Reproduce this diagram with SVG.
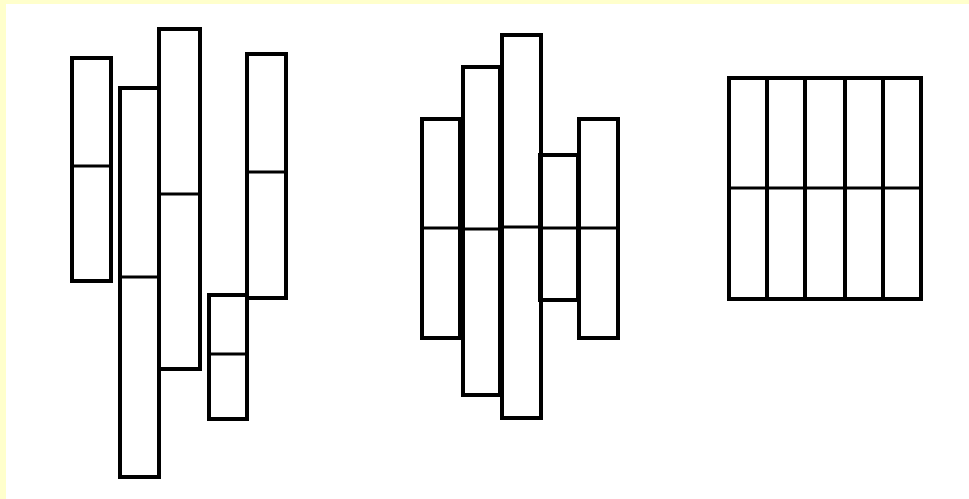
<svg xmlns="http://www.w3.org/2000/svg" width="969" height="499" viewBox="0 0 969 499">
<style>
.bar{fill:none;stroke:#000;stroke-width:4}
.div{stroke:#000;stroke-width:3}
</style>
<rect x="0" y="0" width="969" height="499" fill="#ffffcc"/>
<rect x="6" y="4" width="963" height="495" fill="#ffffff"/>
<g id="bar-a"><rect class="bar" x="72" y="58" width="39" height="223"/><line class="div" x1="72" y1="166" x2="111" y2="166"/></g>
<g id="bar-b"><rect class="bar" x="120" y="88" width="39" height="389"/><line class="div" x1="120" y1="277" x2="159" y2="277"/></g>
<g id="bar-c"><rect class="bar" x="159" y="29" width="41" height="340"/><line class="div" x1="159" y1="194" x2="200" y2="194"/></g>
<g id="bar-d"><rect class="bar" x="209" y="295" width="38" height="124"/><line class="div" x1="209" y1="354" x2="247" y2="354"/></g>
<g id="bar-e"><rect class="bar" x="247" y="54" width="39" height="244"/><line class="div" x1="247" y1="172" x2="286" y2="172"/></g>
<g id="bar-f"><rect class="bar" x="422" y="119" width="38" height="219"/><line class="div" x1="422" y1="228" x2="460" y2="228"/></g>
<g id="bar-g"><rect class="bar" x="463" y="67" width="37" height="328"/><line class="div" x1="463" y1="229" x2="500" y2="229"/></g>
<g id="bar-h"><rect class="bar" x="502" y="35" width="39" height="383"/><line class="div" x1="502" y1="227" x2="541" y2="227"/></g>
<g id="bar-i"><rect class="bar" x="540" y="155" width="38" height="145"/><line class="div" x1="540" y1="228" x2="578" y2="228"/></g>
<g id="bar-j"><rect class="bar" x="579" y="119" width="39" height="219"/><line class="div" x1="579" y1="228" x2="618" y2="228"/></g>
<g id="grid">
<rect class="bar" x="729" y="78" width="192" height="221"/>
<line class="bar" x1="767" y1="78" x2="767" y2="299"/>
<line class="bar" x1="805" y1="78" x2="805" y2="299"/>
<line class="bar" x1="845" y1="78" x2="845" y2="299"/>
<line class="bar" x1="883" y1="78" x2="883" y2="299"/>
<line class="div" x1="729" y1="188" x2="921" y2="188"/>
</g>
</svg>
